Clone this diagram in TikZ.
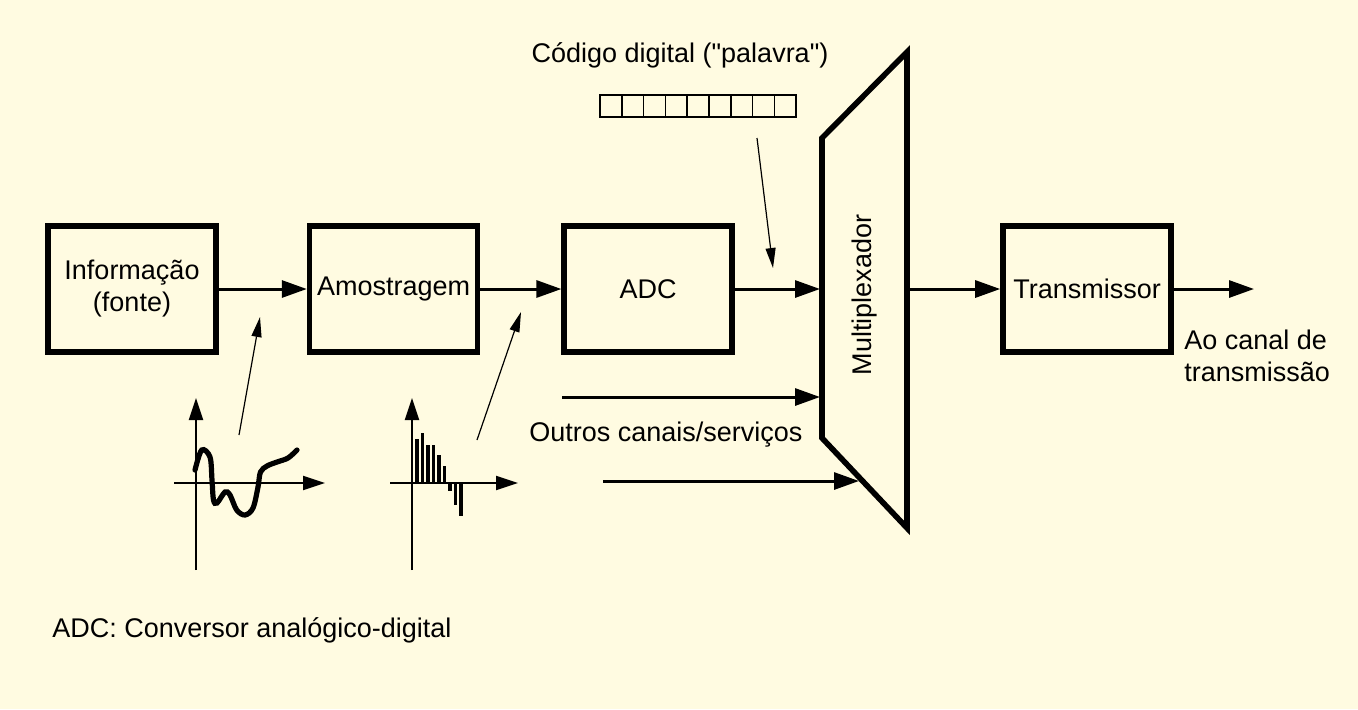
\documentclass[tikz,border=0pt]{standalone}
\usepackage{fontspec}
\setmainfont{Liberation Sans}
\newfontfamily\semmapa{Liberation Sans}
\usetikzlibrary{arrows.meta,positioning}
\definecolor{fundo}{HTML}{FFFBE1}

\begin{document}
\begin{tikzpicture}[
    x=0.5pt, y=-0.5pt,
    font=\fontsize{13.5}{16}\selectfont,
    node distance=44pt,
    bloco/.style={rectangle, draw=black, line width=2.8pt, minimum width=84pt, minimum height=63pt, text centered, align=center, inner sep=0pt},
    texto/.style={inner sep=0pt, align=left},
    seta/.style={line width=1.5pt, -{Triangle[length=12.5pt,width=8.5pt]}},
    setafina/.style={line width=0.6pt, -{Triangle[length=10pt,width=5pt]}},
    eixo/.style={line width=1pt, -{Triangle[length=11pt,width=7pt]}},
    amostra/.style={line width=1.6pt}
]

% fundo
\fill[fundo] (0,0) rectangle (1358,709);
\useasboundingbox (0,0) rectangle (1358,709);

% blocos
\node (info) [bloco] at (132,289) {Informação\\(fonte)};
\node (amos) [bloco, right=44pt of info] {Amostragem};
\node (adc) [bloco, right=40.5pt of amos] {ADC};
\node (trans) [bloco] at (1087,289) {Transmissor};

% multiplexador
\draw[line width=2.8pt, line join=miter] (822,138) -- (907,52) -- (907,528) -- (822,438) -- cycle;
\node (mux) [rotate=90, inner sep=0pt] at (865,295) {Multiplexador};
\coordinate (mux-e1) at (820,289);
\coordinate (mux-e2) at (820,397);
\coordinate (mux-e3) at (859,481);
\coordinate (mux-s) at (908,289);

% palavra digital
\node (codigo) [texto, font=\fontsize{13.5}{16}\semmapa] at (680,55) {Código digital ("palavra")};
\node (palavra) [draw, line width=0.8pt, minimum width=98pt, minimum height=11pt, inner sep=0pt] at (698,106) {};
\foreach \i in {1,...,8}
    \draw[line width=0.8pt] (600+21.8*\i,95) -- (600+21.8*\i,117);
\coordinate (palavra-a) at (757,138);
\coordinate (palavra-b) at (773,268);

% outros canais
\coordinate (outro1) at (562,397);
\coordinate (outro2) at (603,481);
\node (outros) [texto, anchor=west] at (529,435) {Outros canais/serviços};

% saida
\coordinate (canal) at (1254,289);
\node (saida) [texto, anchor=west] at (1184,356) {Ao canal de\\transmissão};

% sinal analogico
\draw[eixo] (196,570) -- (196,398);
\draw[eixo] (174,483) -- (325,483);
\draw[line width=2.6pt, line cap=round] plot[smooth, tension=0.55] coordinates {(195,470) (201.7,450) (210,457) (212,480) (213.5,500) (217,503) (225,492) (230,495) (236.7,510) (245,515) (253,508) (258,487) (260.5,472) (267,466) (277,462) (288,458) (297,450)};
\coordinate (sinal) at (239,435);
\coordinate (sinal-b) at (260,317);

% sinal amostrado
\draw[eixo] (412,570) -- (412,398);
\draw[eixo] (390,483) -- (518,483);
\foreach \x/\y in {417/439, 422.5/433, 428/445, 433.5/445, 439/455, 444.5/466, 450/491, 455.5/505, 461/516}
    \draw[amostra] (\x,483) -- (\x,\y);
\coordinate (amostras) at (477,440);
\coordinate (amostras-b) at (521,312);

% legenda
\node (legenda) [texto, anchor=west] at (52,630) {ADC: Conversor analógico-digital};

% setas
\draw[seta] (info) -- (amos);
\draw[seta] (amos) -- (adc);
\draw[seta] (adc) -- (mux-e1);
\draw[seta] (mux-s) -- (trans);
\draw[seta] (trans) -- (canal);
\draw[seta] (outro1) -- (mux-e2);
\draw[seta] (outro2) -- (mux-e3);
\draw[setafina] (palavra-a) -- (palavra-b);
\draw[setafina] (sinal) -- (sinal-b);
\draw[setafina] (amostras) -- (amostras-b);

\end{tikzpicture}
\end{document}
